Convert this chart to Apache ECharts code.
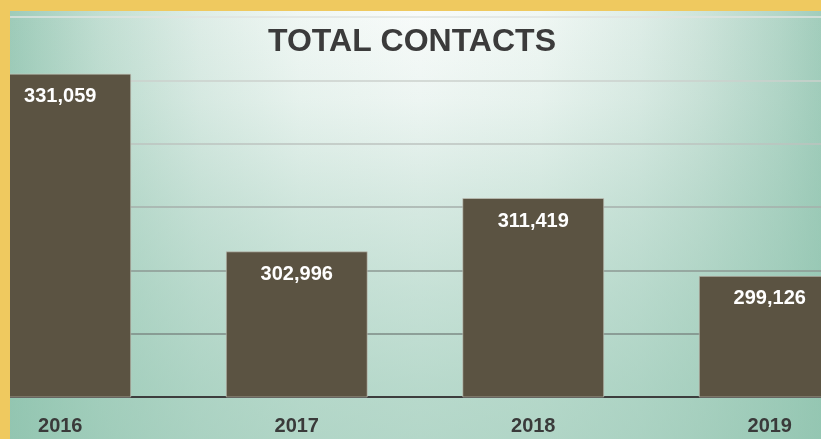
<!DOCTYPE html>
<html>
<head>
<meta charset="utf-8">
<script src="https://cdn.jsdelivr.net/npm/echarts@6/dist/echarts.min.js"></script>
<style>
html,body{margin:0;padding:0;background:#ffffff;overflow:hidden;width:821px;height:439px;}
#wrap{position:relative;width:821px;height:439px;overflow:hidden;}
#chart{position:absolute;left:-58px;top:0;width:946px;height:439px;}
</style>
</head>
<body>
<div id="wrap"><div id="chart"></div></div>
<script>
const chartTitle = 'TOTAL CONTACTS';
const categories = ['2016', '2017', '2018', '2019'];
const contacts = [331059, 302996, 311419, 299126];
const axisMin = 280000;
const axisMax = 340000;
const axisStep = 10000;

// the plot is cropped on the left: the chart canvas starts 58px left of the window
const OFF = 58;

const chart = echarts.init(document.getElementById('chart'), null, {renderer: 'canvas'});

const option = {
  animation: false,
  backgroundColor: '#eef5f2',
  title: {
    text: chartTitle,
    left: 268 + OFF,
    top: 26,
    padding: 0,
    textStyle: {
      fontFamily: 'Liberation Sans',
      fontWeight: 'bold',
      fontSize: 32,
      color: '#3b3b3b'
    }
  },
  graphic: [
    {
      type: 'rect', z: -100, silent: true,
      shape: {x: 0, y: 0, width: 946, height: 439},
      style: {
        fill: {
          type: 'linear', x: 10 + OFF, y: 0, x2: 830 + OFF, y2: 0, global: true,
          colorStops: [
            {offset: 0, color: '#9ecbb9'},
            {offset: 90 / 820, color: '#c1ded2'},
            {offset: 190 / 820, color: '#deede7'},
            {offset: 290 / 820, color: '#f0f7f4'},
            {offset: 410 / 820, color: '#f8fbfa'},
            {offset: 530 / 820, color: '#f0f7f4'},
            {offset: 630 / 820, color: '#deede7'},
            {offset: 690 / 820, color: '#cee4db'},
            {offset: 770 / 820, color: '#b3d6c8'},
            {offset: 1, color: '#9ecbb9'}
          ]
        }
      }
    },
    {
      type: 'rect', z: -99, silent: true,
      shape: {x: 0, y: 0, width: 946, height: 439},
      style: {
        fill: {
          type: 'linear', x: 0, y: 0, x2: 0, y2: 439, global: true,
          colorStops: [
            {offset: 0, color: 'rgba(140,194,172,0)'},
            {offset: 0.023, color: 'rgba(140,194,172,0)'},
            {offset: 0.228, color: 'rgba(140,194,172,0.10)'},
            {offset: 0.456, color: 'rgba(140,194,172,0.31)'},
            {offset: 0.66, color: 'rgba(140,194,172,0.46)'},
            {offset: 0.877, color: 'rgba(140,194,172,0.59)'},
            {offset: 1, color: 'rgba(140,194,172,0.63)'}
          ]
        }
      }
    },
    {
      type: 'rect', z: 100, silent: true,
      shape: {x: 0, y: 0, width: 946, height: 11},
      style: {fill: '#efc95f'}
    },
    {
      type: 'rect', z: 100, silent: true,
      shape: {x: 0, y: 0, width: 10 + OFF, height: 439},
      style: {fill: '#efc95f'}
    }
  ],
  grid: {
    left: 0,
    top: 17,
    width: 946,
    height: 380,
    containLabel: false
  },
  xAxis: {
    type: 'category',
    data: categories,
    axisTick: {show: false},
    axisLine: {show: true, lineStyle: {color: '#3d3d3d', width: 2}},
    axisLabel: {
      margin: 19,
      fontFamily: 'Liberation Sans',
      fontWeight: 'bold',
      fontSize: 20,
      color: '#3a3a3a'
    },
    splitLine: {show: false}
  },
  yAxis: {
    type: 'value',
    min: axisMin,
    max: axisMax,
    interval: axisStep,
    axisLine: {show: false},
    axisTick: {show: false},
    axisLabel: {show: false},
    splitLine: {
      show: true,
      lineStyle: {
        width: 1.5,
        color: ['#7c8a84', '#7c8a84', '#8c9893', '#a6afab', '#bcc3bf', '#cbd0cd', '#dfe3e1']
      }
    }
  },
  series: [{
    type: 'bar',
    data: contacts,
    barCategoryGap: '40%',
    itemStyle: {
      color: '#5b5342',
      borderColor: 'rgba(200,200,190,0.6)',
      borderWidth: 1
    },
    label: {
      show: true,
      position: 'insideTop',
      distance: 13,
      fontFamily: 'Liberation Sans',
      fontWeight: 'bold',
      fontSize: 20,
      color: '#ffffff',
      formatter: p => p.value.toLocaleString('en-US')
    }
  }]
};

chart.setOption(option);
</script>
</body>
</html>
